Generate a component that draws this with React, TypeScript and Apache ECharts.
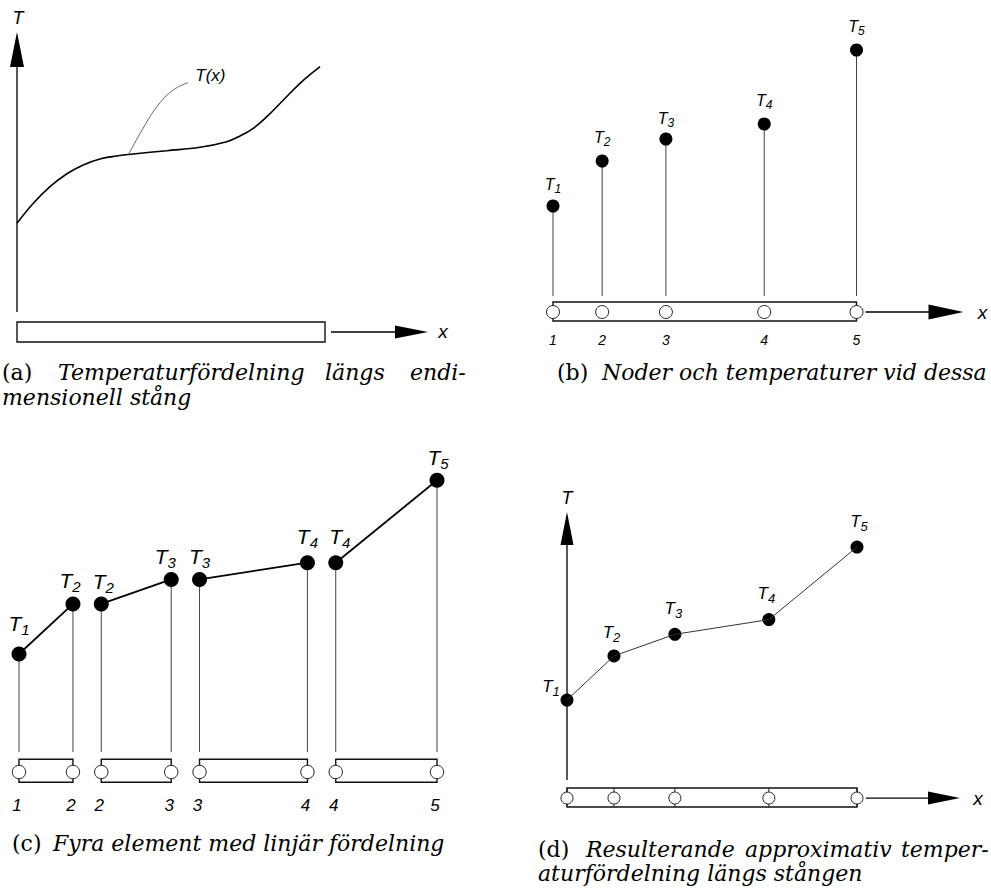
import React, { useEffect, useRef } from "react";
import * as echarts from "echarts";

// ---------------- data ----------------
const NODE_X = [0, 1.62, 3.72, 6.96, 10];
const NODE_LABELS = ["1", "2", "3", "4", "5"];
const NODE_T = [106, 151, 173, 188, 262];
const ROD_LENGTH = 10;
const ELEMENTS = [[0, 1], [1, 2], [2, 3], [3, 4]];

const CURVE_X = [0, 0.53, 1.07, 1.61, 2.15, 2.69, 3.24, 3.78, 4.86, 5.94, 6.81, 7.24, 7.67, 8.11, 8.65, 9.19, 9.84];
const CURVE_T = [108.7, 128.7, 145.3, 158, 167, 173, 176, 178, 181.3, 184.7, 190.3, 196, 203.7, 215.3, 232, 248.7, 265.3];
const LEADER_X = [3.61, 4.0, 4.54, 5.07, 5.56];
const LEADER_T = [177, 198.7, 225.3, 242, 249.3];

// ---------------- layout ----------------
const GAP_C = 0.85;
const SANS = "Liberation Sans";
const SERIF = "DejaVu Serif";
const CAP_SIZE = 22;

const GRID: Record<string, any> = {
  a: { left: 17, top: 32, width: 308, height: 280 },
  b: { left: 553, top: 12, width: 303.5, height: 300 },
  c: { left: 19, top: 438, width: 418, height: 334 },
  d: { left: 567, top: 512, width: 290, height: 268 },
};
const Y_RANGE: Record<string, number[]> = { a: [20, 300], b: [0, 300], c: [0, 300], d: [24.5, 297.7] };
const X_MAX: Record<string, number> = { a: 10, b: 10, c: 10 + 3 * GAP_C, d: 10 };
const ROD_LEVEL: Record<string, number> = { a: 0, b: 0, c: 0, d: 6.1 };
const PANELS = ["a", "b", "c", "d"];

const cx = (e: number, k: number) => NODE_X[k] + e * GAP_C;

function txt(x: number, y: number, text: string, size: number, align = "center") {
  return {
    type: "text",
    x,
    y,
    style: {
      text,
      fontSize: size,
      fontFamily: SANS,
      fontStyle: "italic",
      fill: "#000",
      align,
      verticalAlign: "middle",
    },
  };
}
function hArrow(x0: number, x1: number, y: number, headLen: number, half: number) {
  return [
    { type: "line", shape: { x1: x0, y1: y, x2: x1 - headLen + 1, y2: y }, style: { stroke: "#000", lineWidth: 1.3 } },
    { type: "polygon", shape: { points: [[x1 - headLen, y - half], [x1, y], [x1 - headLen, y + half]] }, style: { fill: "#000" } },
  ];
}
function vArrow(x: number, y0: number, tip: number, headLen: number, half: number) {
  return [
    { type: "line", shape: { x1: x, y1: y0, x2: x, y2: tip + headLen - 1 }, style: { stroke: "#000", lineWidth: 1.3 } },
    { type: "polygon", shape: { points: [[x - half, tip + headLen], [x, tip], [x + half, tip + headLen]] }, style: { fill: "#000" } },
  ];
}
function rodRect(xa: number, xb: number, yc: number, half: number) {
  return {
    type: "rect",
    shape: { x: xa, y: yc - half, width: xb - xa, height: half * 2 },
    style: { fill: "#fff", stroke: "#111", lineWidth: 1.4 },
  };
}
function node(x: number, y: number, r: number) {
  return { type: "circle", shape: { cx: x, cy: y, r }, style: { fill: "#fff", stroke: "#222", lineWidth: 1 } };
}
function rich(t: number, s: number, pad: number) {
  return {
    t: { fontFamily: SANS, fontStyle: "italic", fontSize: t, color: "#000" },
    s: { fontFamily: SANS, fontStyle: "italic", fontSize: s, color: "#000", padding: [pad, 0, 0, 0] },
  };
}
function capText(x: number, y: number, text: string, italic: boolean) {
  return {
    type: "text",
    x,
    y,
    style: {
      text,
      fontSize: CAP_SIZE,
      fontFamily: SERIF,
      fontStyle: italic ? "italic" : "normal",
      fill: "#000",
      verticalAlign: "middle",
    },
  };
}

function buildOption() {
  const series: any[] = [];

  // ---------- panel (a) ----------
  series.push({
    type: "custom",
    xAxisIndex: 0,
    yAxisIndex: 0,
    clip: false,
    data: [[0, Y_RANGE.a[0]]],
    renderItem: (_p: any, api: any) => {
      const r0 = api.coord([0, ROD_LEVEL.a]);
      const r1 = api.coord([ROD_LENGTH, ROD_LEVEL.a]);
      const yb = api.coord([0, Y_RANGE.a[0]]);
      const yt = api.coord([0, Y_RANGE.a[1]]);
      const le = api.coord([LEADER_X[LEADER_X.length - 1], LEADER_T[LEADER_T.length - 1]]);
      return {
        type: "group",
        children: [
          ...vArrow(yb[0], yb[1], yt[1], 35, 7),
          txt(yt[0] + 1, yt[1] - 14, "T", 18),
          rodRect(r0[0], r1[0], r0[1], 10),
          ...hArrow(r1[0] + 6, r1[0] + 103, r0[1], 33, 6.5),
          txt(r1[0] + 118, r0[1] - 1, "x", 19),
          txt(le[0] + 7, le[1] - 7, "T(x)", 17, "left"),
        ],
      };
    },
  });
  series.push({
    type: "line",
    xAxisIndex: 0,
    yAxisIndex: 0,
    smooth: 0.4,
    symbol: "none",
    lineStyle: { color: "#000", width: 1.6 },
    data: CURVE_X.map((x, i) => [x, CURVE_T[i]]),
  });
  series.push({
    type: "line",
    xAxisIndex: 0,
    yAxisIndex: 0,
    smooth: 0.4,
    symbol: "none",
    lineStyle: { color: "#444", width: 0.8 },
    data: LEADER_X.map((x, i) => [x, LEADER_T[i]]),
  });

  // ---------- panel (b) ----------
  series.push({
    type: "custom",
    xAxisIndex: 1,
    yAxisIndex: 1,
    clip: false,
    data: [[0, 0]],
    renderItem: (_p: any, api: any) => {
      const r0 = api.coord([0, ROD_LEVEL.b]);
      const r1 = api.coord([ROD_LENGTH, ROD_LEVEL.b]);
      const children: any[] = [rodRect(r0[0], r1[0], r0[1] - 0.5, 9.5)];
      NODE_X.forEach((x, i) => {
        const p = api.coord([x, ROD_LEVEL.b]);
        children.push(node(p[0], p[1], 6.5));
        children.push(txt(p[0], p[1] + 28, NODE_LABELS[i], 14));
      });
      children.push(...hArrow(r1[0] + 9, r1[0] + 107, r0[1], 35, 7.5));
      children.push(txt(r1[0] + 126, r0[1], "x", 19));
      return { type: "group", children };
    },
  });
  series.push({
    type: "custom",
    xAxisIndex: 1,
    yAxisIndex: 1,
    clip: false,
    data: NODE_X.map((x, i) => [x, NODE_T[i]]),
    renderItem: (_p: any, api: any) => {
      const top = api.coord([api.value(0), api.value(1)]);
      const base = api.coord([api.value(0), ROD_LEVEL.b]);
      return {
        type: "line",
        shape: { x1: top[0], y1: top[1], x2: top[0], y2: base[1] - 16 },
        style: { stroke: "#444", lineWidth: 1 },
      };
    },
  });
  const offB = [[0, -22], [0, -23.5], [0, -21], [0, -23.5], [0, -24]];
  series.push({
    type: "scatter",
    xAxisIndex: 1,
    yAxisIndex: 1,
    symbol: "circle",
    symbolSize: 13,
    itemStyle: { color: "#000", opacity: 1 },
    label: {
      show: true,
      position: "inside",
      formatter: (p: any) => `{t|T}{s|${NODE_LABELS[p.value[2]]}}`,
      rich: rich(16, 12, 9),
    },
    data: NODE_X.map((x, i) => ({ value: [x, NODE_T[i], i], label: { offset: offB[i] } })),
  });

  // ---------- panel (c) ----------
  series.push({
    type: "custom",
    xAxisIndex: 2,
    yAxisIndex: 2,
    clip: false,
    data: [[0, 0]],
    renderItem: (_p: any, api: any) => {
      const children: any[] = [];
      ELEMENTS.forEach(([a, b], e) => {
        const pa = api.coord([cx(e, a), ROD_LEVEL.c]);
        const pb = api.coord([cx(e, b), ROD_LEVEL.c]);
        children.push(rodRect(pa[0], pb[0], pa[1] - 1.3, 11.5));
        children.push(node(pa[0], pa[1], 6.7));
        children.push(node(pb[0], pb[1], 6.7));
        children.push(txt(pa[0] - 2, pa[1] + 33, NODE_LABELS[a], 17));
        children.push(txt(pb[0] - 2, pb[1] + 33, NODE_LABELS[b], 17));
      });
      return { type: "group", children };
    },
  });
  ELEMENTS.forEach(([a, b], e) => {
    series.push({
      type: "line",
      xAxisIndex: 2,
      yAxisIndex: 2,
      symbol: "none",
      lineStyle: { color: "#000", width: 1.8 },
      data: [[cx(e, a), NODE_T[a]], [cx(e, b), NODE_T[b]]],
    });
  });
  const cPts: any[] = [];
  ELEMENTS.forEach(([a, b], e) => {
    cPts.push([cx(e, a), NODE_T[a], a]);
    cPts.push([cx(e, b), NODE_T[b], b]);
  });
  series.push({
    type: "custom",
    xAxisIndex: 2,
    yAxisIndex: 2,
    clip: false,
    data: cPts,
    renderItem: (_p: any, api: any) => {
      const top = api.coord([api.value(0), api.value(1)]);
      const base = api.coord([api.value(0), ROD_LEVEL.c]);
      return {
        type: "line",
        shape: { x1: top[0], y1: top[1], x2: top[0], y2: base[1] - 20 },
        style: { stroke: "#444", lineWidth: 1 },
      };
    },
  });
  const offC = [[0, -30], [-3, -23], [2, -22], [-6, -23], [0, -23], [0, -26], [4, -26], [1, -23]];
  series.push({
    type: "scatter",
    xAxisIndex: 2,
    yAxisIndex: 2,
    symbol: "circle",
    symbolSize: 15,
    itemStyle: { color: "#000", opacity: 1 },
    label: {
      show: true,
      position: "inside",
      formatter: (p: any) => `{t|T}{s|${NODE_LABELS[p.value[2]]}}`,
      rich: rich(21, 15, 12),
    },
    data: cPts.map((v, i) => ({ value: v, label: { offset: offC[i] } })),
  });

  // ---------- panel (d) ----------
  series.push({
    type: "custom",
    xAxisIndex: 3,
    yAxisIndex: 3,
    clip: false,
    data: [[0, Y_RANGE.d[0]]],
    renderItem: (_p: any, api: any) => {
      const r0 = api.coord([0, ROD_LEVEL.d]);
      const r1 = api.coord([ROD_LENGTH, ROD_LEVEL.d]);
      const yb = api.coord([0, Y_RANGE.d[0]]);
      const yt = api.coord([0, Y_RANGE.d[1]]);
      const children: any[] = [...vArrow(yb[0], yb[1], yt[1], 33, 6.5), txt(yt[0], yt[1] - 14, "T", 18)];
      children.push(rodRect(r0[0], r1[0], r0[1] - 0.5, 9.5));
      NODE_X.forEach((x) => {
        const p = api.coord([x, ROD_LEVEL.d]);
        children.push({
          type: "line",
          shape: { x1: p[0], y1: p[1] - 10, x2: p[0], y2: p[1] + 9 },
          style: { stroke: "#222", lineWidth: 1 },
        });
      });
      NODE_X.forEach((x) => {
        const p = api.coord([x, ROD_LEVEL.d]);
        children.push(node(p[0], p[1], 6));
      });
      children.push(...hArrow(r1[0] + 9, r1[0] + 103, r0[1], 32, 6.5));
      children.push(txt(r1[0] + 121, r0[1], "x", 19));
      return { type: "group", children };
    },
  });
  series.push({
    type: "line",
    xAxisIndex: 3,
    yAxisIndex: 3,
    symbol: "none",
    lineStyle: { color: "#333", width: 1 },
    data: NODE_X.map((x, i) => [x, NODE_T[i]]),
  });
  const offD = [[-16, -13.5], [-2.5, -23.5], [-1.5, -26], [-2.5, -26], [2, -25.5]];
  series.push({
    type: "scatter",
    xAxisIndex: 3,
    yAxisIndex: 3,
    symbol: "circle",
    symbolSize: 13,
    itemStyle: { color: "#000", opacity: 1 },
    label: {
      show: true,
      position: "inside",
      formatter: (p: any) => `{t|T}{s|${NODE_LABELS[p.value[2]]}}`,
      rich: rich(17, 13, 10),
    },
    data: NODE_X.map((x, i) => ({ value: [x, NODE_T[i], i], label: { offset: offD[i] } })),
  });

  return {
    animation: false,
    backgroundColor: "#fff",
    grid: PANELS.map((k) => ({ ...GRID[k], show: false, containLabel: false })),
    xAxis: PANELS.map((k, i) => ({ type: "value", gridIndex: i, min: 0, max: X_MAX[k], show: false })),
    yAxis: PANELS.map((k, i) => ({
      type: "value",
      gridIndex: i,
      min: Y_RANGE[k][0],
      max: Y_RANGE[k][1],
      show: false,
    })),
    series,
    graphic: [
      capText(2, 372, "(a)", false),
      capText(58, 372, "Temperaturfördelning", true),
      capText(325, 372, "längs", true),
      capText(410, 372, "endi-", true),
      capText(2, 397, "mensionell stång", true),
      capText(557, 372, "(b)", false),
      capText(602, 372, "Noder och temperaturer vid dessa", true),
      capText(12, 843, "(c)", false),
      capText(53, 843, "Fyra element med linjär fördelning", true),
      capText(538, 849, "(d)", false),
      capText(586, 849, "Resulterande", true),
      capText(745, 849, "approximativ", true),
      capText(901, 849, "temper-", true),
      capText(538, 873, "aturfördelning längs stången", true),
    ],
  };
}

export default function App() {
  const ref = useRef<HTMLDivElement>(null);
  useEffect(() => {
    const chart = echarts.init(ref.current as HTMLDivElement, null, { renderer: "svg" });
    chart.setOption(buildOption() as any);
    return () => chart.dispose();
  }, []);
  return (
    <div
      ref={ref}
      style={{ position: "absolute", left: 0, top: 0, width: 991, height: 895, background: "#fff" }}
    />
  );
}
